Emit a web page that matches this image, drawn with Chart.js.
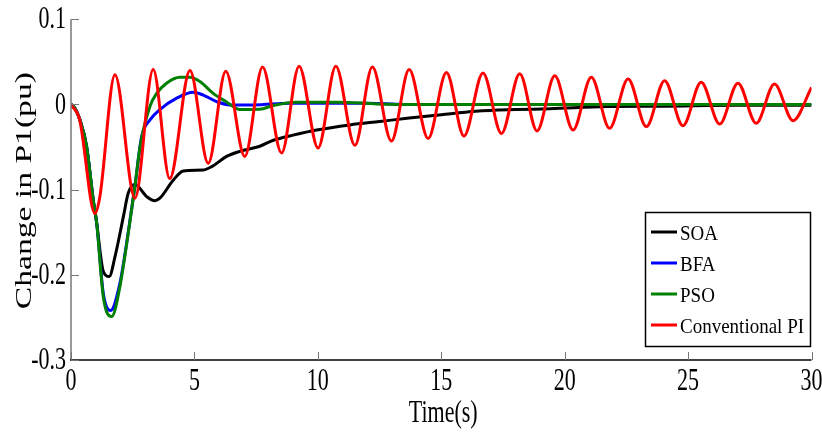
<!DOCTYPE html>
<html>
<head>
<meta charset="utf-8">
<script src="https://cdn.jsdelivr.net/npm/chart.js@4.4.1/dist/chart.umd.min.js"></script>
<style>
  html, body { margin: 0; padding: 0; background: #fff; }
  canvas { display: block; }
</style>
</head>
<body>
<canvas id="chart" width="822" height="432"></canvas>
<script>
// values
const soaT = [0, 0.15, 0.36, 0.63, 0.9, 1.04, 1.31, 1.55, 1.78, 2.12, 2.32, 2.59, 3.06, 3.4, 3.6, 4.14, 4.55, 5.35, 5.7, 6.3, 6.84, 7.65, 8.2, 9.0, 9.95, 11.3, 12.5, 13.7, 15, 16.4, 18, 19.4, 21.7, 24, 27, 30];
const soaY = [0, -0.004, -0.018, -0.049, -0.112, -0.139, -0.196, -0.202, -0.179, -0.132, -0.104, -0.094, -0.108, -0.113, -0.110, -0.089, -0.078, -0.077, -0.073, -0.061, -0.055, -0.049, -0.042, -0.036, -0.030, -0.024, -0.020, -0.016, -0.012, -0.008, -0.006, -0.005, -0.0025, -0.002, -0.001, -0.001];

const bfaT = [0, 0.15, 0.36, 0.63, 0.9, 1.04, 1.31, 1.6, 1.98, 2.32, 2.59, 2.86, 3.2, 3.6, 4.28, 4.95, 5.36, 5.9, 6.44, 7.4, 8.87, 12, 13.5, 30];
const bfaY = [0, -0.004, -0.018, -0.049, -0.112, -0.139, -0.222, -0.242, -0.21, -0.15, -0.096, -0.038, -0.018, -0.006, 0.0074, 0.0144, 0.011, 0.0034, -0.0005, -0.0005, 0.0015, 0.0015, 0, 0];

const psoT = [0, 0.15, 0.36, 0.63, 0.9, 1.04, 1.31, 1.65, 1.98, 2.32, 2.59, 2.8, 3.2, 3.47, 3.87, 4.41, 4.82, 5.22, 5.76, 6.3, 6.84, 7.65, 8.19, 9.14, 10.8, 12.4, 14, 30];
const psoY = [0, -0.004, -0.018, -0.049, -0.112, -0.139, -0.226, -0.249, -0.214, -0.151, -0.096, -0.049, -0.002, 0.013, 0.025, 0.032, 0.032, 0.027, 0.013, 0.003, -0.006, -0.0057, -0.0012, 0.0027, 0.0027, 0.0007, 0, 0];

const piT = [0, 0.35, 0.97, 1.17, 1.78, 2.59, 3.33, 4.0, 4.82, 5.56, 6.27, 7.04, 7.76, 8.53, 9.24, 10.01, 10.73, 11.5, 12.21, 12.98, 13.7, 14.47, 15.21, 15.92, 16.69, 17.44, 18.18, 18.88, 19.6, 20.34, 21.08, 21.82, 22.57, 23.31, 24.05, 24.79, 25.53, 26.28, 27.02, 27.76, 28.5, 29.25, 30];
const piY = [0, -0.018, -0.128, -0.108, 0.035, -0.110, 0.041, -0.087, 0.040, -0.069, 0.039, -0.061, 0.044, -0.057, 0.045, -0.051, 0.045, -0.048, 0.044, -0.043, 0.041, -0.040, 0.0375, -0.037, 0.037, -0.034, 0.036, -0.031, 0.0336, -0.030, 0.032, -0.028, 0.030, -0.026, 0.028, -0.025, 0.026, -0.023, 0.025, -0.022, 0.024, -0.019, 0.02];

const seriesNames = ["SOA", "BFA", "PSO", "Conventional PI"];
const xTicks = [0, 5, 10, 15, 20, 25, 30];
const yTicks = [-0.3, -0.2, -0.1, 0, 0.1];
const yTickLabels = ["-0.3", "-0.2", "-0.1", "0", "0.1"];

const toPoints = (ts, ys) => ts.map((t, i) => ({ x: t, y: ys[i] }));

function drawStretched(ctx, text, x, y, sx, sy) {
  ctx.save();
  ctx.translate(x, y);
  ctx.scale(sx, sy);
  ctx.fillText(text, 0, 0);
  ctx.restore();
}

const axesPlugin = {
  id: "axesPlugin",
  afterDraw(chart) {
    const { ctx, chartArea: area, scales } = chart;
    const xs = scales.x, ys = scales.y;
    ctx.save();

    // axis lines
    ctx.lineWidth = 1.5;
    ctx.strokeStyle = "#777";
    ctx.beginPath();
    ctx.moveTo(area.left, area.top);
    ctx.lineTo(area.left, area.bottom);
    ctx.stroke();
    ctx.strokeStyle = "#000";
    ctx.beginPath();
    ctx.moveTo(area.left - 1, area.bottom);
    ctx.lineTo(area.right, area.bottom);
    ctx.stroke();

    // inward ticks
    ctx.lineWidth = 1;
    ctx.strokeStyle = "#777";
    xTicks.forEach((v) => {
      const px = Math.round(xs.getPixelForValue(v)) + 0.5;
      ctx.beginPath();
      ctx.moveTo(px, area.bottom);
      ctx.lineTo(px, area.bottom - 8);
      ctx.stroke();
    });
    yTicks.forEach((v) => {
      const py = Math.round(ys.getPixelForValue(v)) + 0.5;
      ctx.beginPath();
      ctx.moveTo(area.left, py);
      ctx.lineTo(area.left + 8, py);
      ctx.stroke();
    });

    // tick labels
    ctx.fillStyle = "#000";
    ctx.font = '22px "Liberation Serif", "DejaVu Serif", serif';
    ctx.textBaseline = "middle";
    ctx.textAlign = "center";
    xTicks.forEach((v) => {
      drawStretched(ctx, String(v), xs.getPixelForValue(v), area.bottom + 22, 1, 1.4);
    });
    ctx.textAlign = "right";
    yTicks.forEach((v, i) => {
      drawStretched(ctx, yTickLabels[i], area.left - 5, ys.getPixelForValue(v) + 1, 1, 1.4);
    });

    // axis titles
    ctx.textAlign = "center";
    drawStretched(ctx, "Time(s)", (area.left + area.right) / 2 + 2, area.bottom + 54, 1, 1.4);
    ctx.save();
    ctx.font = '24px "Liberation Serif", "DejaVu Serif", serif';
    ctx.translate(25, (area.top + area.bottom) / 2 + 1);
    ctx.rotate(-Math.PI / 2);
    ctx.scale(1.4, 1);
    ctx.fillText("Change in P1(pu)", 0, 0);
    ctx.restore();

    // legend box
    const bx = 645.5, by = 212.5, bw = 165, bh = 134;
    ctx.fillStyle = "#fff";
    ctx.fillRect(bx, by, bw, bh);
    ctx.lineWidth = 1.5;
    ctx.strokeStyle = "#000";
    ctx.strokeRect(bx, by, bw, bh);
    ctx.font = '19px "Liberation Serif", "DejaVu Serif", serif';
    ctx.textAlign = "left";
    ctx.fillStyle = "#000";
    chart.data.datasets.forEach((ds, i) => {
      const ry = 233 + i * 31;
      ctx.strokeStyle = ds.borderColor;
      ctx.lineWidth = 3;
      ctx.beginPath();
      ctx.moveTo(651, ry - 1);
      ctx.lineTo(677, ry - 1);
      ctx.stroke();
      drawStretched(ctx, ds.label, 680, ry + 1, 1, 1.15);
    });

    ctx.restore();
  },
};

const lineStyle = {
  borderWidth: 3,
  pointRadius: 0,
  fill: false,
  cubicInterpolationMode: "monotone",
};

new Chart(document.getElementById("chart"), {
  type: "line",
  data: {
    datasets: [
      { ...lineStyle, label: seriesNames[0], data: toPoints(soaT, soaY), borderColor: "#000000", order: 3 },
      { ...lineStyle, label: seriesNames[1], data: toPoints(bfaT, bfaY), borderColor: "#0000ff", order: 2 },
      { ...lineStyle, label: seriesNames[2], data: toPoints(psoT, psoY), borderColor: "#008000", order: 1 },
      { ...lineStyle, label: seriesNames[3], data: toPoints(piT, piY), borderColor: "#ff0000", order: 0 },
    ],
  },
  options: {
    responsive: false,
    animation: false,
    devicePixelRatio: 1,
    layout: { padding: { left: 71, right: 10.5, top: 19.3, bottom: 72 } },
    plugins: {
      legend: { display: false },
      tooltip: { enabled: false },
    },
    scales: {
      x: { type: "linear", min: 0, max: 30, display: false },
      y: { type: "linear", min: -0.3, max: 0.1, display: false },
    },
  },
  plugins: [axesPlugin],
});
</script>
</body>
</html>
